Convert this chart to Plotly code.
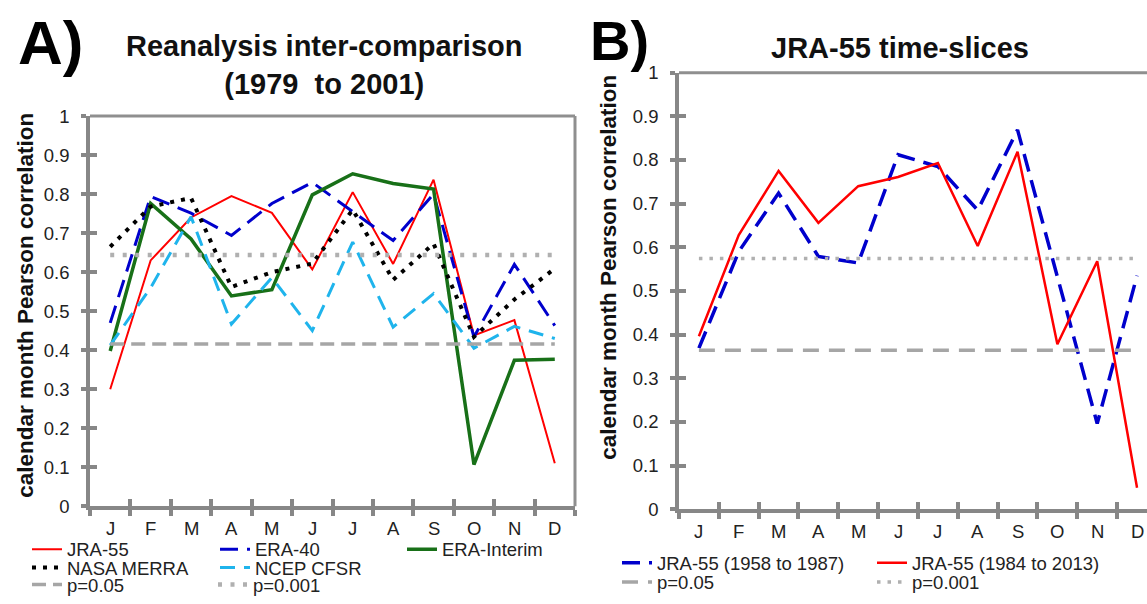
import plotly.graph_objects as go

W, H = 1147, 604

months = ["J", "F", "M", "A", "M", "J", "J", "A", "S", "O", "N", "D"]

# Panel A: reanalysis inter-comparison (1979 to 2001)
jra55_a = [0.30, 0.63, 0.74, 0.795, 0.752, 0.607, 0.805, 0.621, 0.837, 0.438, 0.477, 0.110]
era40_a = [0.47, 0.794, 0.751, 0.694, 0.776, 0.83, 0.755, 0.681, 0.80, 0.434, 0.62, 0.463]
erai_a = [0.398, 0.776, 0.685, 0.539, 0.555, 0.798, 0.852, 0.827, 0.813, 0.107, 0.374, 0.377]
merra_a = [0.665, 0.768, 0.79, 0.562, 0.60, 0.622, 0.76, 0.58, 0.673, 0.434, 0.53, 0.609]
cfsr_a = [0.413, 0.56, 0.742, 0.467, 0.586, 0.45, 0.677, 0.459, 0.545, 0.405, 0.461, 0.43]
p05_a = 0.416
p001_a = 0.644

# Panel B: JRA-55 time slices
jra_5887 = [0.369, 0.59, 0.724, 0.579, 0.564, 0.812, 0.785, 0.685, 0.869, 0.53, 0.196, 0.535]
jra_8413 = [0.396, 0.628, 0.775, 0.656, 0.740, 0.761, 0.793, 0.603, 0.819, 0.378, 0.568, 0.049]
p05_b = 0.364
p001_b = 0.574

ytick_vals = [0, 0.1, 0.2, 0.3, 0.4, 0.5, 0.6, 0.7, 0.8, 0.9, 1]
ytick_text = ["0", "0.1", "0.2", "0.3", "0.4", "0.5", "0.6", "0.7", "0.8", "0.9", "1"]

FONT = "Arial, Liberation Sans, sans-serif"
AX = "#878787"

xi = list(range(12))
bounds = [i - 0.5 for i in range(13)]


def px(x):
    return x / W


def py(y):
    return 1 - y / H


fig = go.Figure()

# ---- Panel A traces
fig.add_trace(go.Scatter(x=xi, y=jra55_a, name="JRA-55", mode="lines",
                         line=dict(color="#ff0000", width=2), xaxis="x", yaxis="y", legend="legend"))
fig.add_trace(go.Scatter(x=xi, y=era40_a, name="ERA-40", mode="lines",
                         line=dict(color="#0000cc", width=3, dash="18px,9px"), xaxis="x", yaxis="y", legend="legend2"))
fig.add_trace(go.Scatter(x=xi, y=erai_a, name="ERA-Interim", mode="lines",
                         line=dict(color="#187018", width=3.5), xaxis="x", yaxis="y", legend="legend3"))
fig.add_trace(go.Scatter(x=xi, y=merra_a, name="NASA MERRA", mode="lines",
                         line=dict(color="#000000", width=4, dash="4px,7px"), xaxis="x", yaxis="y", legend="legend4"))
fig.add_trace(go.Scatter(x=xi, y=cfsr_a, name="NCEP CFSR", mode="lines",
                         line=dict(color="#1fb4ec", width=3, dash="15px,9px"), xaxis="x", yaxis="y", legend="legend5"))
fig.add_trace(go.Scatter(x=[0, 11], y=[p05_a, p05_a], name="p=0.05", mode="lines",
                         line=dict(color="#a6a6a6", width=3.5, dash="14px,7px"), xaxis="x", yaxis="y", legend="legend6"))
fig.add_trace(go.Scatter(x=[0, 11], y=[p001_a, p001_a], name="p=0.001", mode="lines",
                         line=dict(color="#b0b0b0", width=4.5, dash="4px,8.5px"), xaxis="x", yaxis="y", legend="legend7"))

# ---- Panel B traces
fig.add_trace(go.Scatter(x=xi, y=jra_5887, name="JRA-55 (1958 to 1987)", mode="lines",
                         line=dict(color="#0000cc", width=3.5, dash="18px,9px"), xaxis="x2", yaxis="y2", legend="legend8"))
fig.add_trace(go.Scatter(x=xi, y=jra_8413, name="JRA-55 (1984 to 2013)", mode="lines",
                         line=dict(color="#ff0000", width=2.5), xaxis="x2", yaxis="y2", legend="legend9"))
fig.add_trace(go.Scatter(x=[0, 11], y=[p05_b, p05_b], name="p=0.05", mode="lines",
                         line=dict(color="#a6a6a6", width=3.5, dash="16px,10px"), xaxis="x2", yaxis="y2", legend="legend10"))
fig.add_trace(go.Scatter(x=[0, 11], y=[p001_b, p001_b], name="p=0.001", mode="lines",
                         line=dict(color="#b0b0b0", width=3.5, dash="3.5px,7px"), xaxis="x2", yaxis="y2", legend="legend11"))

# dummy traces for overlay tick axes
fig.add_trace(go.Scatter(x=[None], y=[None], xaxis="x3", yaxis="y3", showlegend=False))
fig.add_trace(go.Scatter(x=[None], y=[None], xaxis="x4", yaxis="y4", showlegend=False))

domA_x = [px(90), px(575)]
domA_y = [py(514), py(109)]
domB_x = [px(679), 1.0]
domB_y = [py(517), py(64)]
rngA = [-0.5, 11.5]
rngB = [-0.5, 11.25]

tickfont = dict(family=FONT, size=18.5, color="#222222")


def xaxis_main(dom, rng, anchor):
    return dict(domain=dom, range=rng, anchor=anchor, tickmode="array", tickvals=bounds,
                ticks="outside", ticklen=6, tickwidth=3.5, tickcolor=AX, showticklabels=False,
                showgrid=False, zeroline=False, showline=True, linecolor=AX, linewidth=3.5)


def yaxis_main(dom, anchor):
    return dict(domain=dom, range=[0, 1], anchor=anchor, tickmode="array", tickvals=ytick_vals,
                ticktext=ytick_text, ticks="outside", ticklen=5, tickwidth=3.5, tickcolor=AX,
                showgrid=False, zeroline=False, showline=True, linecolor=AX, linewidth=3.5,
                tickfont=tickfont, ticklabelstandoff=8)


def xaxis_over(base, rng, anchor):
    return dict(overlaying=base, range=rng, anchor=anchor, tickmode="array", tickvals=bounds,
                ticks="inside", ticklen=7, tickwidth=3.5, tickcolor=AX, showticklabels=False,
                showgrid=False, zeroline=False, showline=False)


def yaxis_over(base, anchor):
    return dict(overlaying=base, range=[0, 1], anchor=anchor, side="left", tickmode="array",
                tickvals=ytick_vals, ticks="inside", ticklen=7, tickwidth=3.5, tickcolor=AX,
                showticklabels=False, showgrid=False, zeroline=False, showline=False)


layout = dict(
    width=W, height=H, margin=dict(l=0, r=0, t=0, b=0),
    paper_bgcolor="white", plot_bgcolor="white",
    font=dict(family=FONT, color="#222222"),
    xaxis=xaxis_main(domA_x, rngA, "y"),
    yaxis=yaxis_main(domA_y, "x"),
    xaxis2=xaxis_main(domB_x, rngB, "y2"),
    yaxis2=yaxis_main(domB_y, "x2"),
    xaxis3=xaxis_over("x", rngA, "y3"),
    yaxis3=yaxis_over("y", "x3"),
    xaxis4=xaxis_over("x2", rngB, "y4"),
    yaxis4=yaxis_over("y2", "x4"),
)

# legends: one per entry, positioned in pixels (symbol start x, centre y)
leg_pos = [
    (32, 559), (220, 559), (407, 559),
    (32, 578), (220, 578),
    (32, 596), (218, 596),
    (622, 573), (877, 573),
    (622, 593), (877, 593),
]
for i, (lx, ly) in enumerate(leg_pos):
    key = "legend" if i == 0 else f"legend{i + 1}"
    layout[key] = dict(x=px(lx - 5), y=py(ly), xanchor="left", yanchor="middle",
                       orientation="h", bgcolor="rgba(0,0,0,0)", borderwidth=0,
                       font=dict(family=FONT, size=18.5, color="#222222"),
                       itemwidth=30, tracegroupgap=0)

fig.update_layout(**layout)

# borders (top/right of A, top of B)
fig.add_shape(type="line", xref="x domain", yref="y domain", x0=0, x1=1, y0=1, y1=1,
              line=dict(color="#8f8f8f", width=3))
fig.add_shape(type="line", xref="x domain", yref="y domain", x0=1, x1=1, y0=0, y1=1,
              line=dict(color="#8f8f8f", width=3))
fig.add_shape(type="line", xref="x2 domain", yref="y2 domain", x0=0, x1=1, y0=1, y1=1,
              line=dict(color="#8f8f8f", width=3))

ann = []
# month labels placed through the x scales
for i, m in enumerate(months):
    ann.append(dict(text=m, x=i, xref="x", y=py(537), yref="paper", xanchor="center", yanchor="middle",
                    showarrow=False, font=tickfont))
    ann.append(dict(text=m, x=i, xref="x2", y=py(540), yref="paper", xanchor="center", yanchor="middle",
                    showarrow=False, font=tickfont))
ann.append(dict(text="<b>A)</b>", x=px(16), y=py(33), xref="paper", yref="paper", xanchor="left",
                yanchor="middle", showarrow=False, font=dict(family=FONT, size=62, color="#000")))
ann.append(dict(text="<b>B)</b>", x=px(588), y=py(31), xref="paper", yref="paper", xanchor="left",
                yanchor="middle", showarrow=False, font=dict(family=FONT, size=56, color="#000")))
ann.append(dict(text="<b>Reanalysis inter-comparison</b><br><b>(1979  to 2001)</b>", x=px(324), y=py(56),
                xref="paper", yref="paper", xanchor="center", yanchor="middle", showarrow=False,
                font=dict(family=FONT, size=29, color="#111")))
ann.append(dict(text="<b>JRA-55 time-slices</b>", x=px(900), y=py(38), xref="paper", yref="paper",
                xanchor="center", yanchor="middle", showarrow=False,
                font=dict(family=FONT, size=29, color="#111")))
ann.append(dict(text="<b>calendar month Pearson correlation</b>", x=px(26), y=py(306), xref="paper",
                yref="paper", xanchor="center", yanchor="middle", textangle=-90, showarrow=False,
                font=dict(family=FONT, size=22.5, color="#111")))
ann.append(dict(text="<b>calendar month Pearson correlation</b>", x=px(608.5), y=py(266), xref="paper",
                yref="paper", xanchor="center", yanchor="middle", textangle=-90, showarrow=False,
                font=dict(family=FONT, size=22.5, color="#111")))
fig.update_layout(annotations=ann)

fig.write_html("out.html")
